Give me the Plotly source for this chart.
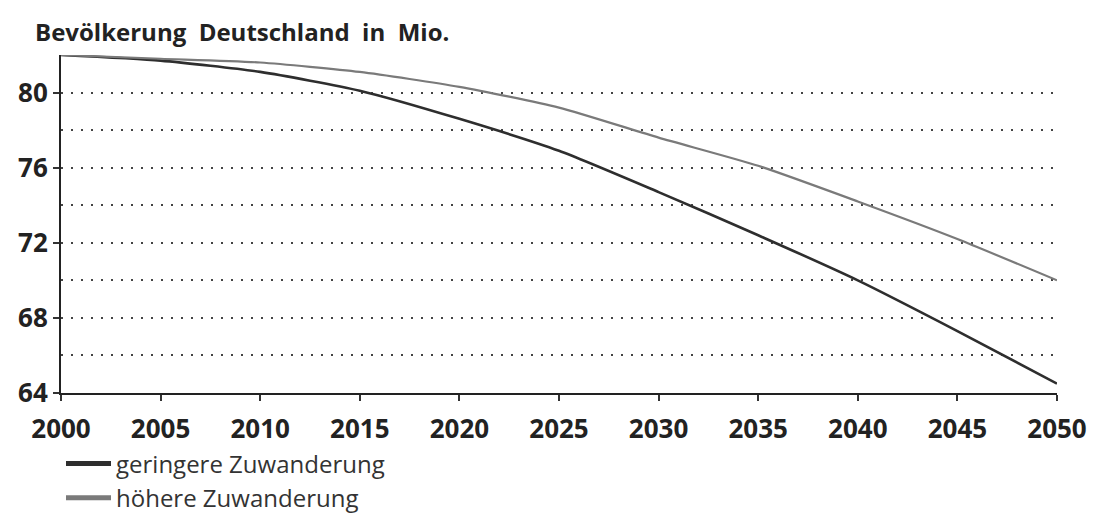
import plotly.graph_objects as go

years = [2000, 2005, 2010, 2015, 2020, 2025, 2030, 2035, 2040, 2045, 2050]
geringere = [82.0, 81.7, 81.1, 80.1, 78.6, 76.9, 74.7, 72.4, 70.0, 67.3, 64.5]
hoehere = [82.0, 81.8, 81.6, 81.1, 80.3, 79.2, 77.6, 76.1, 74.2, 72.2, 70.0]
x_ticks = list(range(2000, 2051, 5))
y_ticks = [64, 68, 72, 76, 80]
title = "Bevölkerung\u00a0 Deutschland\u00a0 in\u00a0 Mio."
names = ["geringere Zuwanderung", "höhere Zuwanderung"]
colors = ["#2e2e2e", "#7a7a7a"]

FONT = "Open Sans"
W, H = 1088, 505  # page body has an 8px margin

fig = go.Figure()
for ys, name, col, w in [(geringere, names[0], colors[0], 2.6), (hoehere, names[1], colors[1], 2.2)]:
    fig.add_trace(go.Scatter(x=years, y=ys, mode="lines", line=dict(color=col, width=w, shape="spline", smoothing=0.6),
                             showlegend=False, hoverinfo="skip"))
# legend-only entries (thicker symbols like the reference)
for name, col in zip(names, colors):
    fig.add_trace(go.Scatter(x=[None], y=[None], mode="lines", name=name,
                             line=dict(color=col, width=5)))

fig.update_layout(
    width=W, height=H,
    margin=dict(l=53, r=39, t=47, b=120, autoexpand=False),
    paper_bgcolor="white", plot_bgcolor="white",
    font=dict(family=FONT, color="#222222"),
    title=dict(text=title, x=27/W, xanchor="left", y=1-25/H, yanchor="middle",
               font=dict(family=FONT, size=24, color="#222222", weight="bold")),
    showlegend=True,
    legend=dict(x=0.0, xanchor="left", y=-0.143, yanchor="top", orientation="v",
                font=dict(family=FONT, size=24, color="#333333"), tracegroupgap=0,
                itemwidth=45, bgcolor="rgba(0,0,0,0)"),
)
fig.update_xaxes(range=[2000, 2050], tickvals=x_ticks, ticks="outside", ticklen=6, tickwidth=1.5,
                 tickcolor="#333", showline=True, linecolor="#222", linewidth=2, showgrid=False,
                 ticklabelstandoff=6,
                 zeroline=False, tickfont=dict(family=FONT, size=26, color="#222", weight="bold"))
fig.update_yaxes(range=[64, 82], tickvals=y_ticks, ticks="outside", ticklen=6, tickwidth=1.5,
                 tickcolor="#333", showline=True, linecolor="#222", linewidth=2,
                 showgrid=True, gridcolor="#444", gridwidth=1.6, griddash="2px,8px",
                 minor=dict(dtick=2, tick0=64, showgrid=True, gridcolor="#444", gridwidth=1.6, griddash="2px,8px"),
                 zeroline=False, tickfont=dict(family=FONT, size=26, color="#222", weight="bold"))

fig.write_html("out.html")
